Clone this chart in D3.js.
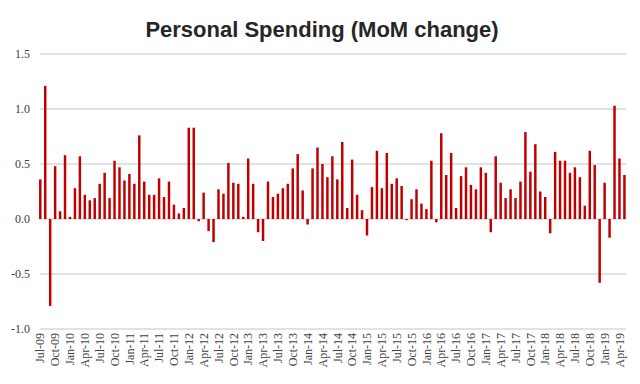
<!DOCTYPE html>
<html>
<head>
<meta charset="utf-8">
<script src="https://cdn.jsdelivr.net/npm/d3@7"></script>
<style>
  html, body { margin: 0; padding: 0; background: #fff; }
  svg { display: block; }
</style>
</head>
<body>
<svg id="chart" width="640" height="384"></svg>
<script>
const title = "Personal Spending (MoM change)";

const categories = [
  "Jul-09","Aug-09","Sep-09","Oct-09","Nov-09","Dec-09",
  "Jan-10","Feb-10","Mar-10","Apr-10","May-10","Jun-10","Jul-10","Aug-10","Sep-10","Oct-10","Nov-10","Dec-10",
  "Jan-11","Feb-11","Mar-11","Apr-11","May-11","Jun-11","Jul-11","Aug-11","Sep-11","Oct-11","Nov-11","Dec-11",
  "Jan-12","Feb-12","Mar-12","Apr-12","May-12","Jun-12","Jul-12","Aug-12","Sep-12","Oct-12","Nov-12","Dec-12",
  "Jan-13","Feb-13","Mar-13","Apr-13","May-13","Jun-13","Jul-13","Aug-13","Sep-13","Oct-13","Nov-13","Dec-13",
  "Jan-14","Feb-14","Mar-14","Apr-14","May-14","Jun-14","Jul-14","Aug-14","Sep-14","Oct-14","Nov-14","Dec-14",
  "Jan-15","Feb-15","Mar-15","Apr-15","May-15","Jun-15","Jul-15","Aug-15","Sep-15","Oct-15","Nov-15","Dec-15",
  "Jan-16","Feb-16","Mar-16","Apr-16","May-16","Jun-16","Jul-16","Aug-16","Sep-16","Oct-16","Nov-16","Dec-16",
  "Jan-17","Feb-17","Mar-17","Apr-17","May-17","Jun-17","Jul-17","Aug-17","Sep-17","Oct-17","Nov-17","Dec-17",
  "Jan-18","Feb-18","Mar-18","Apr-18","May-18","Jun-18","Jul-18","Aug-18","Sep-18","Oct-18","Nov-18","Dec-18",
  "Jan-19","Feb-19","Mar-19","Apr-19","May-19"
];

const values = [
  0.36, 1.21, -0.79, 0.48, 0.07, 0.58,
  0.02, 0.28, 0.57, 0.22, 0.17, 0.19, 0.32, 0.42, 0.19, 0.53, 0.47, 0.35,
  0.41, 0.32, 0.76, 0.34, 0.22, 0.22, 0.37, 0.20, 0.34, 0.13, 0.05, 0.10,
  0.83, 0.83, -0.02, 0.24, -0.11, -0.21, 0.27, 0.23, 0.51, 0.33, 0.32, 0.02,
  0.55, 0.32, -0.12, -0.20, 0.34, 0.20, 0.23, 0.28, 0.32, 0.46, 0.59, 0.26,
  -0.05, 0.46, 0.65, 0.50, 0.38, 0.57, 0.36, 0.70, 0.10, 0.54, 0.22, 0.08,
  -0.15, 0.29, 0.62, 0.28, 0.60, 0.32, 0.37, 0.30, -0.01, 0.18, 0.27, 0.14,
  0.09, 0.53, -0.03, 0.78, 0.40, 0.60, 0.10, 0.39, 0.47, 0.31, 0.27, 0.47,
  0.42, -0.12, 0.57, 0.33, 0.19, 0.27, 0.19, 0.34, 0.79, 0.43, 0.68, 0.25,
  0.20, -0.13, 0.61, 0.53, 0.53, 0.42, 0.47, 0.38, 0.12, 0.62, 0.49, -0.58,
  0.33, -0.17, 1.03, 0.55, 0.40
];

const xTickLabels = [
  "Jul-09","Oct-09","Jan-10","Apr-10","Jul-10","Oct-10","Jan-11","Apr-11","Jul-11","Oct-11",
  "Jan-12","Apr-12","Jul-12","Oct-12","Jan-13","Apr-13","Jul-13","Oct-13","Jan-14","Apr-14",
  "Jul-14","Oct-14","Jan-15","Apr-15","Jul-15","Oct-15","Jan-16","Apr-16","Jul-16","Oct-16",
  "Jan-17","Apr-17","Jul-17","Oct-17","Jan-18","Apr-18","Jul-18","Oct-18","Jan-19","Apr-19"
];

const yTicks = [-1.0, -0.5, 0.0, 0.5, 1.0, 1.5];

const svg = d3.select("#chart");
const plotLeft = 37.8, plotRight = 626.9, plotTop = 54, plotBottom = 329;

const x = d3.scaleBand().domain(categories).range([plotLeft, plotRight]).paddingInner(0.5).paddingOuter(0.25);
const y = d3.scaleLinear().domain([-1.0, 1.5]).range([plotBottom, plotTop]);

// Title
svg.append("text")
  .attr("x", 322).attr("y", 37)
  .attr("text-anchor", "middle")
  .attr("font-family", "'Liberation Sans', Arial, sans-serif")
  .attr("font-weight", "bold")
  .attr("font-size", 22)
  .attr("fill", "#262626")
  .text(title);

// Gridlines
svg.append("g").selectAll("line").data(yTicks).join("line")
  .attr("x1", 40).attr("x2", 626)
  .attr("y1", d => y(d)).attr("y2", d => y(d))
  .attr("stroke", "#d9d9d9").attr("stroke-width", 1.3);

// Y axis labels
const yAxis = d3.axisLeft(y).tickValues(yTicks).tickSize(0).tickPadding(0)
  .tickFormat(d => d.toFixed(1));
const gy = svg.append("g").attr("transform", "translate(30,0)").call(yAxis);
gy.select(".domain").remove();
gy.selectAll("text")
  .attr("font-family", "'Liberation Serif', 'Times New Roman', serif")
  .attr("font-size", 12)
  .attr("fill", "#404040");

// Bars
svg.append("g").selectAll("rect").data(values).join("rect")
  .attr("x", (d, i) => x(categories[i]))
  .attr("width", x.bandwidth())
  .attr("y", d => y(Math.max(0, d)))
  .attr("height", d => Math.abs(y(d) - y(0)))
  .attr("fill", "#c00000");

// X axis
const xAxis = d3.axisBottom(x).tickValues(xTickLabels).tickSize(0).tickPadding(0);
const gx = svg.append("g").attr("transform", `translate(0,${plotBottom + 4})`).call(xAxis);
gx.select(".domain").remove();
gx.selectAll("text")
  .attr("font-family", "'Liberation Serif', 'Times New Roman', serif")
  .attr("font-size", 12)
  .attr("fill", "#404040")
  .attr("transform", "rotate(-90)")
  .attr("text-anchor", "end")
  .attr("x", 0)
  .attr("y", 0)
  .attr("dx", 0)
  .attr("dy", "0.35em");
</script>
</body>
</html>
